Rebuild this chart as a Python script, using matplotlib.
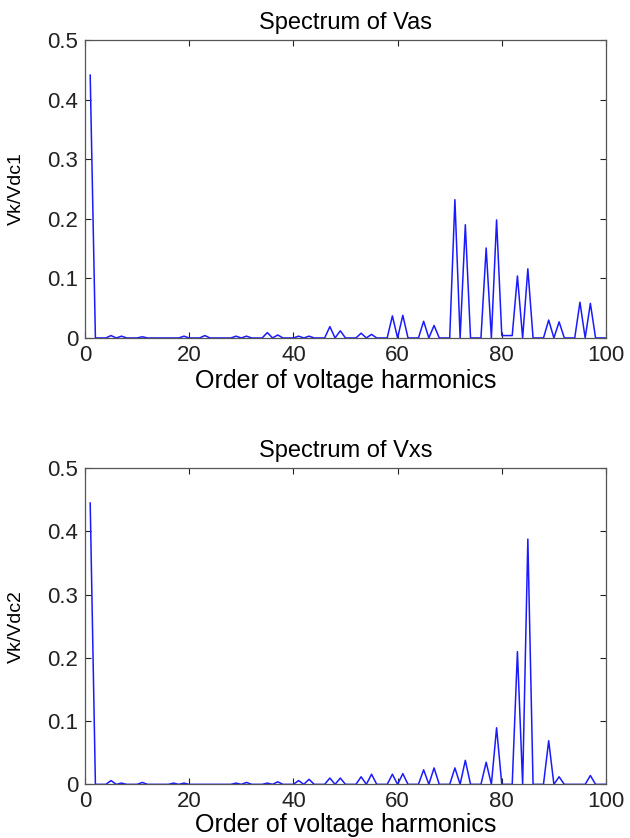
import numpy as np
import matplotlib
matplotlib.use('Agg')
import matplotlib.pyplot as plt

plt.rcParams['font.family'] = ['Liberation Sans', 'DejaVu Sans']

# Harmonic orders and magnitudes (all other orders are 0)
vas_orders = [1, 5, 7, 11, 19, 23, 29, 31, 35, 37, 41, 43, 47, 49, 53, 55,
              59, 61, 65, 67, 71, 73, 77, 79, 80, 81, 82, 83, 85, 89, 91, 95, 97]
vas_mag = [0.441, 0.004, 0.003, 0.002, 0.003, 0.004, 0.003, 0.003, 0.009, 0.005,
           0.003, 0.003, 0.019, 0.012, 0.008, 0.006, 0.037, 0.038, 0.028, 0.021,
           0.232, 0.190, 0.151, 0.198, 0.004, 0.004, 0.004, 0.104, 0.116, 0.030,
           0.027, 0.060, 0.058]

vxs_orders = [1, 5, 7, 11, 17, 19, 29, 31, 35, 37, 41, 43, 47, 49, 53, 55,
              59, 61, 65, 67, 71, 73, 77, 79, 83, 85, 89, 91, 97]
vxs_mag = [0.445, 0.006, 0.002, 0.003, 0.002, 0.002, 0.002, 0.003, 0.002, 0.004,
           0.006, 0.008, 0.010, 0.010, 0.012, 0.016, 0.016, 0.017, 0.023, 0.026,
           0.026, 0.038, 0.035, 0.0895, 0.210, 0.388, 0.069, 0.012, 0.014]

n = np.arange(1, 101)
vas = np.zeros(len(n))
vas[np.array(vas_orders) - 1] = vas_mag
vxs = np.zeros(len(n))
vxs[np.array(vxs_orders) - 1] = vxs_mag

fig = plt.figure(figsize=(6.3, 8.38), dpi=100)
ax1 = fig.add_axes([0.1349, 0.5967, 0.8270, 0.3556])
ax2 = fig.add_axes([0.1349, 0.0640, 0.8270, 0.3772])

def style(ax, title, ylab, y, xlab_y):
    ax.plot(n, y, color='#1a1aff', linewidth=1.1)
    ax.set_xlim(0, 100)
    ax.set_ylim(0, 0.5)
    ax.set_xticks([0, 20, 40, 60, 80, 100])
    ax.set_yticks([0, 0.1, 0.2, 0.3, 0.4, 0.5])
    ax.set_yticklabels(['0', '0.1', '0.2', '0.3', '0.4', '0.5'])
    ax.tick_params(direction='in', top=True, right=True, length=4,
                   labelsize=16, colors='#222222', pad=5)
    for s in ax.spines.values():
        s.set_color('#555555')
        s.set_linewidth(0.9)
    ax.set_title(title, fontsize=17, pad=8)
    ax.set_xlabel('Order of voltage harmonics', fontsize=18)
    ax.set_ylabel(ylab, fontsize=14)
    ax.xaxis.set_label_coords(0.5, xlab_y)
    ax.yaxis.set_label_coords(-0.115, 0.5)

style(ax1, 'Spectrum of Vas', 'Vk/Vdc1', vas, -0.105)
style(ax2, 'Spectrum of Vxs', 'Vk/Vdc2', vxs, -0.092)

fig.savefig('out.png', dpi=100)
